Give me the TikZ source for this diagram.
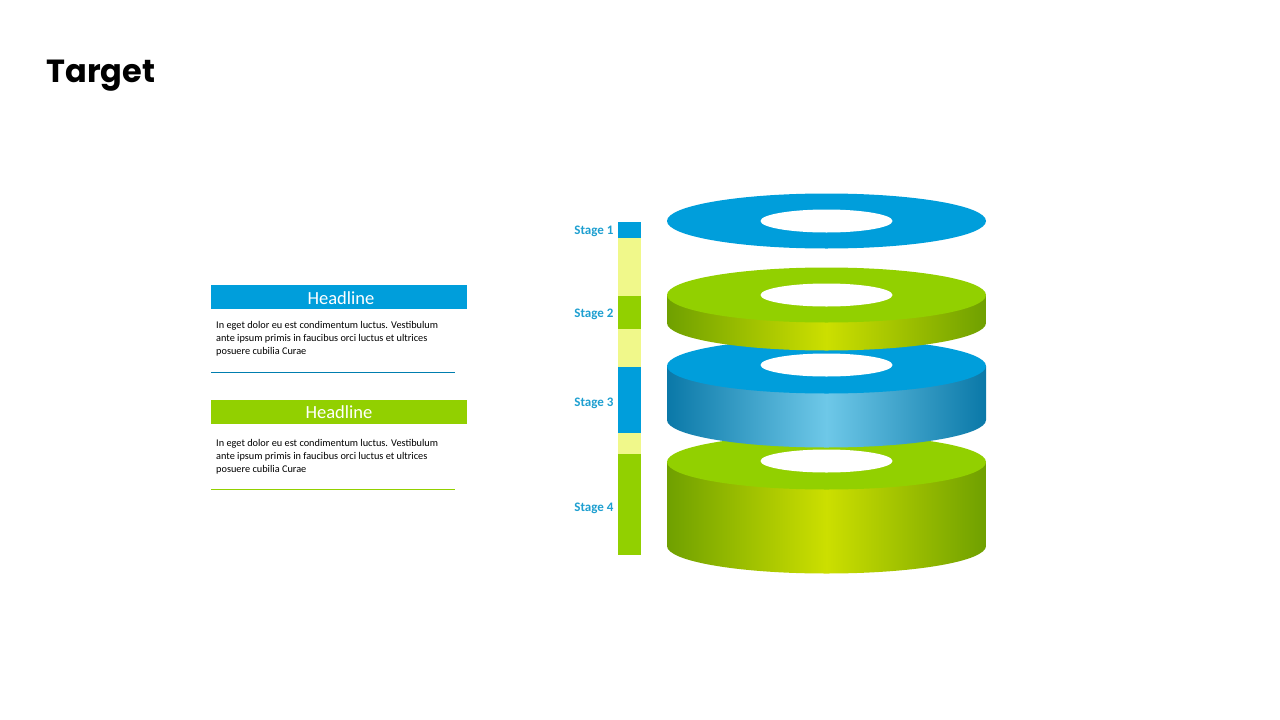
\documentclass[tikz,border=0pt]{standalone}
\usepackage{fontspec}
\setmainfont{Carlito}
\newfontfamily\titlefont{Poppins}
\definecolor{cblue}{HTML}{009EDB}
\definecolor{cgreen}{HTML}{92D000}
\definecolor{cyel}{HTML}{F0F88A}
\definecolor{gdark}{HTML}{6FA000}
\definecolor{glight}{HTML}{CCDF00}
\definecolor{bdark}{HTML}{0A78A8}
\definecolor{blight}{HTML}{6EC8E8}
\definecolor{stagec}{HTML}{1E9FD0}
\tikzset{
  stagelbl/.style={anchor=east,text=stagec,font=\fontsize{13}{15}\selectfont\bfseries},
  headtxt/.style={text=white,font=\fontsize{18.5}{20}\selectfont},
  bodytxt/.style={anchor=north west,align=left,inner sep=0pt,font=\fontsize{10.3}{13}\selectfont}
}
\newcommand{\disk}[6]{% top y, bottom y, top col, side dark, side light, hole y
  \ifdim #2pt>#1pt
  \shade[left color=#4,right color=#4,middle color=#5,shading angle=90]
    (667,#1) -- (667,#2) arc[start angle=180,end angle=0,x radius=159.5,y radius=27.5] -- (986,#1) -- cycle;
  \fi
  \fill[#3] (826.5,#1) ellipse[x radius=159.5,y radius=27.5];
  \fill[white] (826.5,#6) ellipse[x radius=66,y radius=11.5];
}
\begin{document}
\begin{tikzpicture}[x=1pt,y=-1pt]
\useasboundingbox (0,0) rectangle (1280,720);
\node[anchor=west,font=\titlefont\fontsize{32}{36}\selectfont\bfseries] (title) at (43,76) {Target};
% disks bottom to top
\disk{462}{546}{cgreen}{gdark}{glight}{461}
\disk{366}{420}{cblue}{bdark}{blight}{365}
\disk{295}{323}{cgreen}{gdark}{glight}{295}
\disk{221}{221}{cblue}{bdark}{blight}{221}
% bar
\fill[cblue] (618,222) rectangle (641,238);
\fill[cyel] (618,238) rectangle (641,296);
\fill[cgreen] (618,296) rectangle (641,329);
\fill[cyel] (618,329) rectangle (641,367);
\fill[cblue] (618,367) rectangle (641,433);
\fill[cyel] (618,433) rectangle (641,454);
\fill[cgreen] (618,454) rectangle (641,555);
\node[stagelbl] (s1) at (617,231) {Stage 1};
\node[stagelbl] (s2) at (617,314) {Stage 2};
\node[stagelbl] (s3) at (617,403) {Stage 3};
\node[stagelbl] (s4) at (617,508) {Stage 4};
% left panels
\fill[cblue] (211,285) rectangle (467,309);
\node[headtxt] (h1) at (341,298) {Headline};
\node[bodytxt] (b1) at (216,321) {In eget dolor eu est condimentum luctus. Vestibulum\\ante ipsum primis in faucibus orci luctus et ultrices\\posuere cubilia Curae};
\draw[cblue!80!black,line width=1] (211,372) -- (455,372);
\fill[cgreen] (211,400) rectangle (467,424);
\node[headtxt] (h2) at (339,412) {Headline};
\node[bodytxt] (b2) at (216,439) {In eget dolor eu est condimentum luctus. Vestibulum\\ante ipsum primis in faucibus orci luctus et ultrices\\posuere cubilia Curae};
\draw[cgreen,line width=1] (211,489) -- (455,489);
\end{tikzpicture}
\end{document}
